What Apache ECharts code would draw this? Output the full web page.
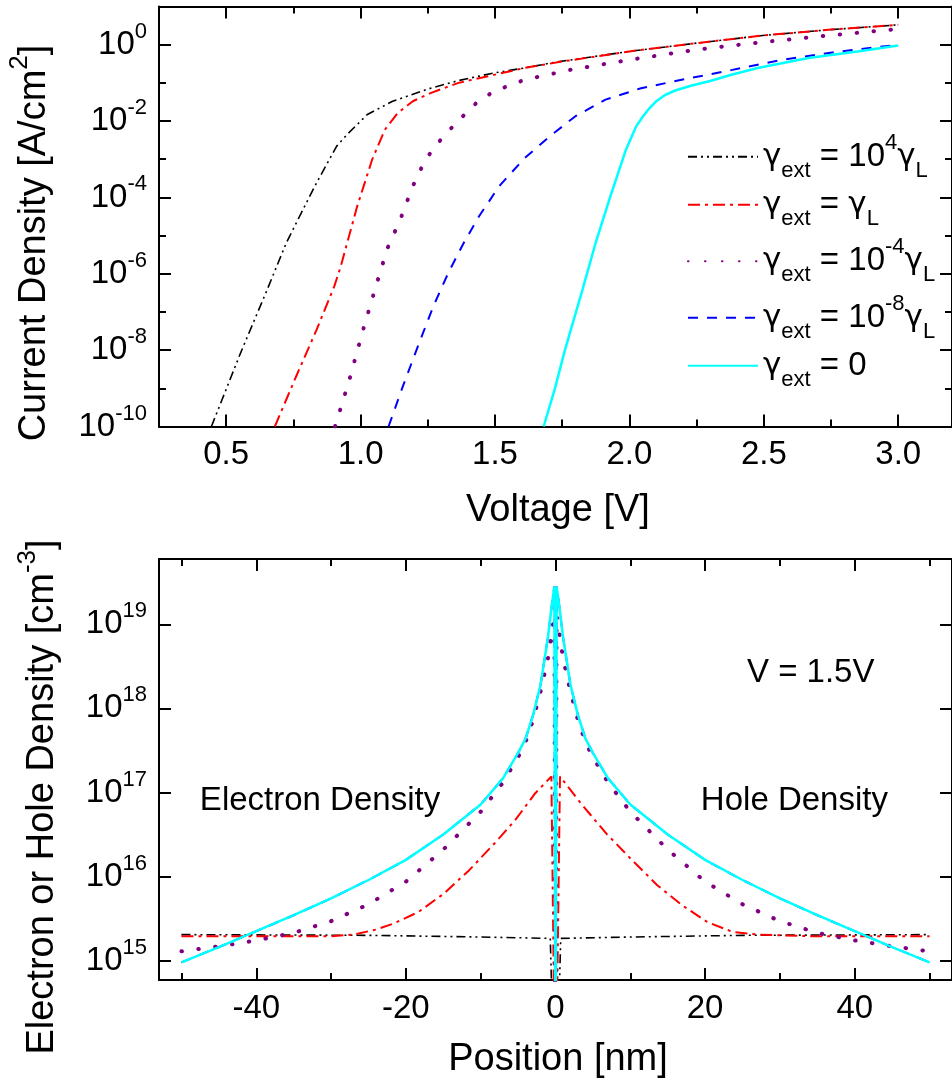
<!DOCTYPE html>
<html>
<head>
<meta charset="utf-8">
<script src="https://cdn.jsdelivr.net/npm/echarts@6/dist/echarts.min.js"></script>
<style>html,body{margin:0;padding:0;background:#fff}#c{width:952px;height:1087px}</style>
</head>
<body>
<div id="c"></div>
<script>
// ---------- names ----------
const seriesNames = ['γext = 10^4γL', 'γext = γL', 'γext = 10^-4γL', 'γext = 10^-8γL', 'γext = 0'];
const legendParts = [['4'], [], ['-4'], ['-8'], null];

// ---------- top panel: current density vs voltage ----------
const voltBlack = [0.445, 0.553, 0.647, 0.723, 0.779, 0.836, 0.911, 0.949, 1.025, 1.119, 1.251, 1.364, 1.496, 1.609, 1.723, 2.006, 2.25, 2.496, 2.74, 3.0];
const jBlack    = [1e-10, 8.3e-9, 3.1e-7, 6.3e-6, 3.9e-5, 2.4e-4, 2.2e-3, 4.4e-3, 1.48e-2, 3.3e-2, 6.9e-2, 0.115, 0.182, 0.245, 0.347, 0.676, 1.10, 1.74, 2.45, 3.31];

const voltRed = [0.681, 0.760, 0.836, 0.902, 0.926, 0.987, 1.043, 1.09, 1.138, 1.194, 1.26, 1.364, 1.496, 1.609, 1.751, 2.006, 2.25, 2.496, 2.74, 3.0];
const jRed    = [1e-10, 2.04e-9, 3.39e-8, 4.68e-7, 1.55e-6, 5.75e-5, 9.8e-4, 5.9e-3, 1.62e-2, 3.3e-2, 5.4e-2, 0.1, 0.162, 0.245, 0.363, 0.676, 1.10, 1.74, 2.45, 3.31];

const voltPurple = [0.905, 0.958, 1.006, 1.053, 1.1, 1.147, 1.194, 1.241, 1.298, 1.355, 1.43, 1.496, 1.609, 1.78, 2.006, 2.25, 2.496, 2.74, 3.0];
const jPurple    = [1e-10, 1.66e-9, 2.82e-8, 3.8e-7, 4.68e-6, 2.57e-5, 1.95e-4, 9.8e-4, 3.24e-3, 8.9e-3, 2.95e-2, 6.0e-2, 0.12, 0.219, 0.407, 0.741, 1.17, 1.74, 2.57];

const voltBlue = [1.104, 1.157, 1.213, 1.27, 1.326, 1.383, 1.44, 1.515, 1.61, 1.704, 1.798, 1.911, 2.043, 2.194, 2.383, 2.572, 2.76, 3.0];
const jBlue    = [1e-10, 1.12e-9, 1.26e-8, 1.38e-7, 1.05e-6, 6.3e-6, 3.16e-5, 1.95e-4, 1.07e-3, 3.98e-3, 1.32e-2, 3.63e-2, 7.24e-2, 0.12, 0.219, 0.407, 0.631, 1.0];

const voltCyan = [1.681, 1.723, 1.76, 1.826, 1.874, 1.93, 1.987, 2.025, 2.05, 2.075, 2.1, 2.13, 2.17, 2.232, 2.3, 2.383, 2.477, 2.666, 2.855, 3.0];
const jCyan    = [1e-10, 1e-9, 1e-8, 3.98e-7, 6.31e-6, 1.12e-4, 1.78e-3, 7.24e-3, 1.32e-2, 2.19e-2, 3.31e-2, 4.68e-2, 6.31e-2, 8.51e-2, 0.112, 0.166, 0.245, 0.447, 0.676, 0.955];

// ---------- bottom panel: carrier density vs position ----------
const posBlack = [-50, -25, -10, -0.7, 0, 0.7, 10, 25, 50];
const nBlack   = [2.04e15, 2.0e15, 1.91e15, 1.84e15, 1e13, 1.84e15, 1.91e15, 2.0e15, 2.04e15];

const posRed = [-50, -40, -30, -27, -24, -21.7, -18.3, -14.9, -11.5, -8.1, -5.4, -2.7, -0.55, 0, 0.6, 3.4, 6.8, 10.2, 13.6, 16.9, 20.3, 23.7, 27.1, 34, 50];
const nRed   = [1.95e15, 1.95e15, 1.95e15, 2.04e15, 2.34e15, 2.75e15, 3.8e15, 6.3e15, 1.2e16, 2.51e16, 4.68e16, 9.8e16, 1.55e17, 1e13, 1.55e17, 7.4e16, 3.24e16, 1.58e16, 7.9e15, 4.57e15, 2.88e15, 2.19e15, 2.04e15, 1.95e15, 1.95e15];

const posPurple = [-50, -45, -40, -35, -30, -25, -20, -15, -10, -7, -5, -4, -3, -2, -1, -0.5, -0.15, 0, 0.15, 0.5, 1, 2, 3, 4, 5, 7, 10, 15, 20, 25, 30, 35, 40, 45, 50];
const nPurple   = [1.29e15, 1.48e15, 1.74e15, 2.14e15, 2.95e15, 4.68e15, 8.7e15, 2.09e16, 5.9e16, 1.32e17, 2.63e17, 3.98e17, 7.24e17, 1.58e18, 3.98e18, 7.94e18, 1.26e19, 1e13, 1.26e19, 7.94e18, 3.98e18, 1.58e18, 7.24e17, 3.98e17, 2.63e17, 1.32e17, 5.9e16, 2.09e16, 8.7e15, 4.68e15, 2.95e15, 2.14e15, 1.74e15, 1.48e15, 1.29e15];

const posBlue = [-50, -45, -40, -35, -30, -25, -20, -15, -10, -7, -5, -4, -3, -2, -1, -0.5, -0.15, 0, 0.15, 0.5, 1, 2, 3, 4, 5, 7, 10, 15, 20, 25, 30, 35, 40, 45, 50];
const nBlue   = [9.55e14, 1.45e15, 2.24e15, 3.47e15, 5.5e15, 9.1e15, 1.58e16, 3.16e16, 7.2e16, 1.48e17, 2.95e17, 4.37e17, 8.3e17, 1.9e18, 7.1e18, 1.66e19, 2.82e19, 1e13, 2.82e19, 1.66e19, 7.1e18, 1.9e18, 8.3e17, 4.37e17, 2.95e17, 1.48e17, 7.2e16, 3.16e16, 1.58e16, 9.1e15, 5.5e15, 3.47e15, 2.24e15, 1.45e15, 9.55e14];

const posCyan = [-50, -45, -40, -35, -30, -25, -20, -15, -10, -7, -5, -4, -3, -2, -1, -0.5, -0.15, 0, 0.15, 0.5, 1, 2, 3, 4, 5, 7, 10, 15, 20, 25, 30, 35, 40, 45, 50];
const nCyan   = [9.55e14, 1.45e15, 2.24e15, 3.47e15, 5.5e15, 9.1e15, 1.58e16, 3.16e16, 7.2e16, 1.48e17, 2.95e17, 4.37e17, 8.3e17, 1.9e18, 7.1e18, 1.66e19, 2.82e19, 1e13, 2.82e19, 1.66e19, 7.1e18, 1.9e18, 8.3e17, 4.37e17, 2.95e17, 1.48e17, 7.2e16, 3.16e16, 1.58e16, 9.1e15, 5.5e15, 3.47e15, 2.24e15, 1.45e15, 9.55e14];

// ---------- tick values ----------
const voltMajor = [0.5, 1.0, 1.5, 2.0, 2.5, 3.0];
const voltMinor = [0.25, 0.75, 1.25, 1.75, 2.25, 2.75];
const jMajor = [1e-10, 1e-8, 1e-6, 1e-4, 1e-2, 1];
const jMinor = [1e-9, 1e-7, 1e-5, 1e-3, 1e-1, 10];
const posMajor = [-40, -20, 0, 20, 40];
const posMinor = [-50, -30, -10, 10, 30, 50];
const nMajor = [1e15, 1e16, 1e17, 1e18, 1e19];

// ---------- styles ----------
const FONT = "'Liberation Sans', Arial, Helvetica, sans-serif";
const GFONT = "'DejaVu Sans', 'Noto Sans', sans-serif";
const colors = ['#000000', '#ff0000', '#800080', '#0000ff', '#00ffff'];
const lineStyles = [
  { width: 1.6, type: [9, 4, 2, 4, 2, 4] },
  { width: 2, type: [12, 5, 3, 5] },
  { width: 4, type: [0.5, 16.5], cap: 'round' },
  { width: 2, type: [10, 9] },
  { width: 2.5, type: 'solid' }
];

function zip(a, b) { return a.map((v, i) => [v, b[i]]); }
const topData = [zip(voltBlack, jBlack), zip(voltRed, jRed), zip(voltPurple, jPurple), zip(voltBlue, jBlue), zip(voltCyan, jCyan)];
const botData = [zip(posBlack, nBlack), zip(posRed, nRed), zip(posPurple, nPurple), zip(posBlue, nBlue), zip(posCyan, nCyan)];

const supRich = {
  b: { fontSize: 33, lineHeight: 48, fontFamily: FONT, color: '#000' },
  s: { fontSize: 22, lineHeight: 22, fontFamily: FONT, color: '#000', verticalAlign: 'top' }
};
function powLabel(v) {
  const e = Math.round(Math.log10(v));
  return '{b|10}{s|' + e + '}';
}

const lineBase = { color: '#000', width: 2 };
function mkX(grid, min, max, pos, major, minor, label, fmt) {
  const a = {
    type: 'value', gridIndex: grid, min: min, max: max, position: pos,
    axisLine: { show: true, onZero: false, lineStyle: lineBase },
    axisTick: { show: true, inside: true, length: 12, customValues: major, lineStyle: lineBase },
    axisLabel: label ? { show: true, customValues: major, margin: 12, fontSize: 33, fontFamily: FONT, color: '#000', formatter: fmt } : { show: false },
    splitLine: { show: false }
  };
  const b = {
    type: 'value', gridIndex: grid, min: min, max: max, position: pos,
    axisLine: { show: false, onZero: false },
    axisTick: { show: true, inside: true, length: 7, customValues: minor, lineStyle: lineBase },
    axisLabel: { show: false }, splitLine: { show: false }
  };
  return [a, b];
}
function mkY(grid, type, min, max, pos, major, minor, label) {
  const arr = [{
    type: type, logBase: 10, gridIndex: grid, min: min, max: max, position: pos,
    axisLine: { show: true, onZero: false, lineStyle: lineBase },
    axisTick: { show: true, inside: true, length: 12, customValues: major, lineStyle: lineBase },
    axisLabel: label ? { show: true, customValues: major, margin: 12, formatter: powLabel, rich: supRich, align: 'right' } : { show: false },
    splitLine: { show: false }, minorTick: { show: false }
  }];
  if (minor) arr.push({
    type: type, logBase: 10, gridIndex: grid, min: min, max: max, position: pos,
    axisLine: { show: false, onZero: false },
    axisTick: { show: true, inside: true, length: 7, customValues: minor, lineStyle: lineBase },
    axisLabel: { show: false }, splitLine: { show: false }, minorTick: { show: false }
  });
  return arr;
}

const xAxes = [].concat(
  mkX(0, 0.25, 3.2, 'bottom', voltMajor, voltMinor, true, v => v.toFixed(1)),
  mkX(0, 0.25, 3.2, 'top', voltMajor, voltMinor, false),
  mkX(1, -53, 53, 'bottom', posMajor, posMinor, true, v => String(v)),
  mkX(1, -53, 53, 'top', posMajor, posMinor, false)
);
const nMin = Math.pow(10, 14.77), nMax = Math.pow(10, 19.776);
const yAxes = [].concat(
  mkY(0, 'log', 1e-10, 10, 'left', jMajor, jMinor, true),
  mkY(0, 'log', 1e-10, 10, 'right', jMajor, jMinor, false),
  mkY(1, 'log', nMin, nMax, 'left', nMajor, null, true),
  mkY(1, 'log', nMin, nMax, 'right', nMajor, null, false)
);

const series = [];
seriesNames.forEach((name, i) => {
  const common = { type: 'line', name: name, symbol: 'none', showSymbol: false, smooth: false,
    color: colors[i], lineStyle: Object.assign({ color: colors[i] }, lineStyles[i]), z: 2 + i, animation: false };
  series.push(Object.assign({}, common, { xAxisIndex: 0, yAxisIndex: 0, data: topData[i] }));
  series.push(Object.assign({}, common, { xAxisIndex: 4, yAxisIndex: 4, data: botData[i] }));
});

const legendRichMap = {};
seriesNames.forEach((n, i) => {
  const p = legendParts[i];
  let s = '{gm|γ}{sub|ext}{g| = }';
  if (p === null) s += '{g|0}';
  else if (p.length === 0) s += '{gm|γ}{sub|L}';
  else s += '{g|10}{sup|' + p[0] + '}{gm|γ}{sub|L}';
  legendRichMap[n] = s;
});

function txt(x, y, text, size, rot, rich) {
  return {
    type: 'text', x: x, y: y, rotation: rot || 0, silent: true,
    style: { text: text, fontSize: size, fontFamily: FONT, fill: '#000', align: 'center', verticalAlign: 'middle', rich: rich }
  };
}
const titleRich = {
  m: { fontSize: 38, lineHeight: 56, fontFamily: FONT, color: '#000' },
  s: { fontSize: 26, lineHeight: 26, fontFamily: FONT, color: '#000', verticalAlign: 'top' }
};

const option = {
  animation: false,
  backgroundColor: '#ffffff',
  grid: [
    { left: 159, top: 6.5, width: 798.4, height: 420, show: false },
    { left: 159, top: 559, width: 798.3, height: 421, show: false }
  ],
  xAxis: xAxes,
  yAxis: yAxes,
  legend: {
    data: seriesNames, orient: 'vertical', left: 682, top: 126.7,
    itemWidth: 70, itemHeight: 14, itemGap: 6.5, selectedMode: false,
    itemStyle: { opacity: 0 },
    formatter: n => legendRichMap[n],
    textStyle: {
      color: '#000', fontFamily: FONT, fontSize: 33,
      rich: {
        g: { fontSize: 33, lineHeight: 50, fontFamily: FONT, color: '#000' },
        gm: { fontSize: 31, lineHeight: 50, fontFamily: GFONT, color: '#000' },
        sub: { fontSize: 22, lineHeight: 22, fontFamily: FONT, color: '#000', verticalAlign: 'bottom' },
        sup: { fontSize: 22, lineHeight: 22, fontFamily: FONT, color: '#000', verticalAlign: 'top' }
      }
    }
  },
  graphic: [
    txt(34.5, 243, '{m|Current Density [A/cm}{s|2}{m|]}', 38, Math.PI / 2, titleRich),
    txt(42.5, 797, '{m|Electron or Hole Density [cm}{s|-3}{m|]}', 38, Math.PI / 2, titleRich),
    txt(558, 511, 'Voltage [V]', 38),
    txt(558, 1060, 'Position [nm]', 38),
    txt(810.7, 673, 'V = 1.5V', 33),
    txt(320, 801, 'Electron Density', 33),
    txt(794.4, 801, 'Hole Density', 33)
  ],
  series: series
};

const chart = echarts.init(document.getElementById('c'), null, { renderer: 'canvas' });
chart.setOption(option);
</script>
</body>
</html>
